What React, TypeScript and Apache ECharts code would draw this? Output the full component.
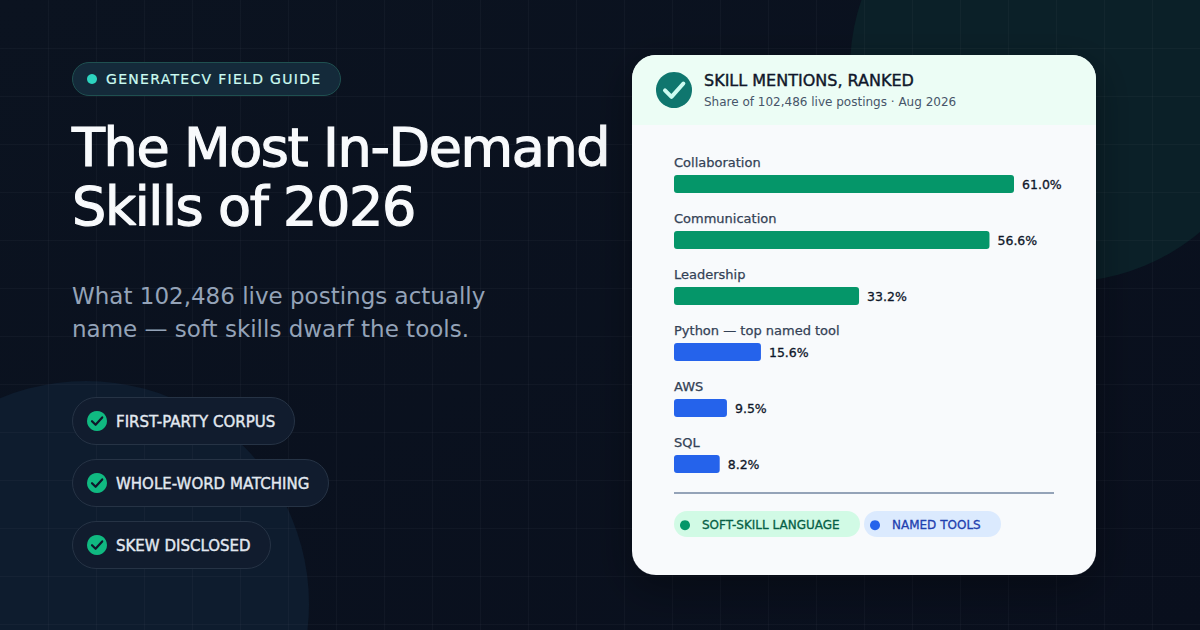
import { useEffect, useRef } from 'react';
import * as echarts from 'echarts';

const FONT = '"DejaVu Sans"';

const skills = ['Collaboration', 'Communication', 'Leadership', 'Python — top named tool', 'AWS', 'SQL'];
const softValues = [61.0, 56.6, 33.2, null, null, null];
const toolValues = [null, null, null, 15.6, 9.5, 8.2];
const seriesNames = ['SOFT-SKILL LANGUAGE', 'NAMED TOOLS'];

const badgeText = 'GENERATECV FIELD GUIDE';
const titleLines = ['The Most In-Demand', 'Skills of 2026'];
const subtitleLines = ['What 102,486 live postings actually', 'name — soft skills dwarf the tools.'];
const pills = ['FIRST-PARTY CORPUS', 'WHOLE-WORD MATCHING', 'SKEW DISCLOSED'];
const pillWidths = [222, 256, 198];
const cardTitle = 'SKILL MENTIONS, RANKED';
const cardSubtitle = 'Share of 102,486 live postings · Aug 2026';

// letter spacing is not something zrender knows about, so it goes on the svg text afterwards
const spacing: Record<string, string> = {
  [badgeText]: '1.3px',
  [titleLines[0]]: '-1.4px',
  [titleLines[1]]: '-1.4px',
};

function text(x: number, y: number, value: string, fontSize: number, fill: string, bold = 0) {
  return {
    type: 'text',
    x,
    y,
    style: {
      text: value,
      font: `${fontSize}px ${FONT}`,
      fill,
      textAlign: 'left',
      textVerticalAlign: 'middle',
      stroke: bold ? fill : undefined,
      lineWidth: bold,
    },
  };
}

function check(cx: number, cy: number, s: number, color: string, width: number) {
  return {
    type: 'polyline',
    shape: {
      points: [
        [cx - 0.5 * s, cy + 0.02 * s],
        [cx - 0.14 * s, cy + 0.38 * s],
        [cx + 0.52 * s, cy - 0.36 * s],
      ],
    },
    style: { stroke: color, lineWidth: width, fill: 'none', lineCap: 'round', lineJoin: 'round' },
  };
}

function backdrop() {
  const out: any[] = [
    {
      type: 'rect',
      shape: { x: 0, y: 0, width: 1200, height: 630 },
      style: {
        fill: new echarts.graphic.LinearGradient(0, 0, 1, 1, [
          { offset: 0, color: '#0b1320' },
          { offset: 1, color: '#090f1d' },
        ]),
      },
    },
    { type: 'circle', shape: { cx: 1063, cy: 69, r: 213 }, style: { fill: '#0b2028' } },
    { type: 'circle', shape: { cx: 86, cy: 604, r: 223 }, style: { fill: '#0e1c2e' } },
  ];
  const gridLine = { stroke: 'rgba(148,163,184,0.05)', lineWidth: 1 };
  for (let x = 48; x < 1200; x += 48) {
    out.push({ type: 'line', shape: { x1: x + 0.5, y1: 0, x2: x + 0.5, y2: 630 }, style: gridLine });
  }
  for (let y = 48; y < 630; y += 48) {
    out.push({ type: 'line', shape: { x1: 0, y1: y + 0.5, x2: 1200, y2: y + 0.5 }, style: gridLine });
  }
  return out;
}

function leftColumn() {
  const out: any[] = [
    {
      type: 'rect',
      shape: { x: 72.5, y: 62.5, width: 268, height: 33, r: 16.5 },
      style: { fill: '#142a3a', stroke: '#1f5050', lineWidth: 1 },
    },
    { type: 'circle', shape: { cx: 92, cy: 79, r: 5 }, style: { fill: '#2dd4bf' } },
    text(106, 79, badgeText, 14, '#ccfbf1', 0.2),
    text(72, 147.5, titleLines[0], 54, '#f8fafc', 1.2),
    text(72, 206.5, titleLines[1], 54, '#f8fafc', 1.2),
    text(72, 296, subtitleLines[0], 23, '#94a3b8'),
    text(72, 329, subtitleLines[1], 23, '#94a3b8'),
  ];
  pills.forEach((label, i) => {
    const y = 397 + i * 62;
    out.push(
      {
        type: 'rect',
        shape: { x: 72.5, y: y + 0.5, width: pillWidths[i], height: 47, r: 23.5 },
        style: { fill: '#111c2e', stroke: '#263345', lineWidth: 1 },
      },
      { type: 'circle', shape: { cx: 97, cy: y + 24, r: 10 }, style: { fill: '#10b981' } },
      check(97, y + 24, 10, '#0f172a', 2.2),
      text(116, y + 25, label, 15, '#e2e8f0', 0.4),
    );
  });
  return out;
}

function card() {
  return [
    {
      type: 'rect',
      shape: { x: 632, y: 55, width: 464, height: 520, r: 24 },
      style: { fill: '#f8fafc', shadowBlur: 40, shadowColor: 'rgba(0,0,0,0.35)', shadowOffsetY: 12 },
    },
    {
      type: 'rect',
      shape: { x: 632, y: 55, width: 464, height: 70, r: [24, 24, 0, 0] },
      style: { fill: '#ecfdf5' },
    },
    { type: 'circle', shape: { cx: 674, cy: 90, r: 18 }, style: { fill: '#0f766e' } },
    check(674, 90, 18, '#ccfbf1', 4),
    text(704, 80, cardTitle, 16, '#0f172a', 0.4),
    text(704, 102, cardSubtitle, 12, '#475569'),
    {
      type: 'line',
      shape: { x1: 674, y1: 493, x2: 1054, y2: 493 },
      style: { stroke: '#94a3b8', lineWidth: 2 },
    },
    { type: 'rect', shape: { x: 674, y: 511, width: 186, height: 26, r: 13 }, style: { fill: '#d1fae5' } },
    { type: 'rect', shape: { x: 864, y: 511, width: 137, height: 26, r: 13 }, style: { fill: '#dbeafe' } },
  ];
}

function legendFor(name: string, left: number, color: string) {
  return {
    data: [name],
    left,
    top: 519,
    icon: 'circle',
    itemWidth: 10,
    itemHeight: 10,
    itemGap: 0,
    padding: 0,
    selectedMode: false,
    textStyle: { fontSize: 12, fontFamily: FONT, color, padding: [0, 0, 0, 7], textBorderColor: color, textBorderWidth: 0.3 },
  };
}

function barSeries(name: string, data: (number | null)[], color: string) {
  return {
    name,
    type: 'bar',
    stack: 'share',
    data,
    barWidth: 18,
    itemStyle: { color, borderRadius: 3 },
    label: {
      show: true,
      position: 'right',
      distance: 8,
      formatter: (p: any) => `${p.value.toFixed(1)}%`,
      fontSize: 12.5,
      fontFamily: FONT,
      color: '#0f172a',
      textBorderColor: '#0f172a',
      textBorderWidth: 0.3,
    },
  };
}

export default function App() {
  const ref = useRef<HTMLDivElement>(null);

  useEffect(() => {
    if (!ref.current) return;
    const chart = echarts.init(ref.current, undefined, { renderer: 'svg' });
    chart.setOption({
      animation: false,
      grid: { left: 674, top: 156, width: 340, height: 336 },
      xAxis: { type: 'value', min: 0, max: 61, show: false },
      yAxis: {
        type: 'category',
        inverse: true,
        data: skills,
        axisLine: { show: false },
        axisTick: { show: false },
        axisLabel: {
          inside: true,
          margin: 0,
          fontSize: 13,
          fontFamily: FONT,
          color: '#334155',
          textBorderColor: '#334155',
          textBorderWidth: 0.25,
          verticalAlign: 'bottom',
          lineHeight: 44,
        },
      },
      legend: [legendFor(seriesNames[0], 680, '#065f46'), legendFor(seriesNames[1], 870, '#1e40af')],
      graphic: { elements: [...backdrop(), ...leftColumn(), ...card()] },
      series: [barSeries(seriesNames[0], softValues, '#059669'), barSeries(seriesNames[1], toolValues, '#2563eb')],
    });
    ref.current.querySelectorAll('text').forEach((el) => {
      const ls = spacing[el.textContent ?? ''];
      if (ls) el.setAttribute('letter-spacing', ls);
    });
    return () => chart.dispose();
  }, []);

  return <div ref={ref} style={{ position: 'absolute', left: 0, top: 0, width: 1200, height: 630 }} />;
}
